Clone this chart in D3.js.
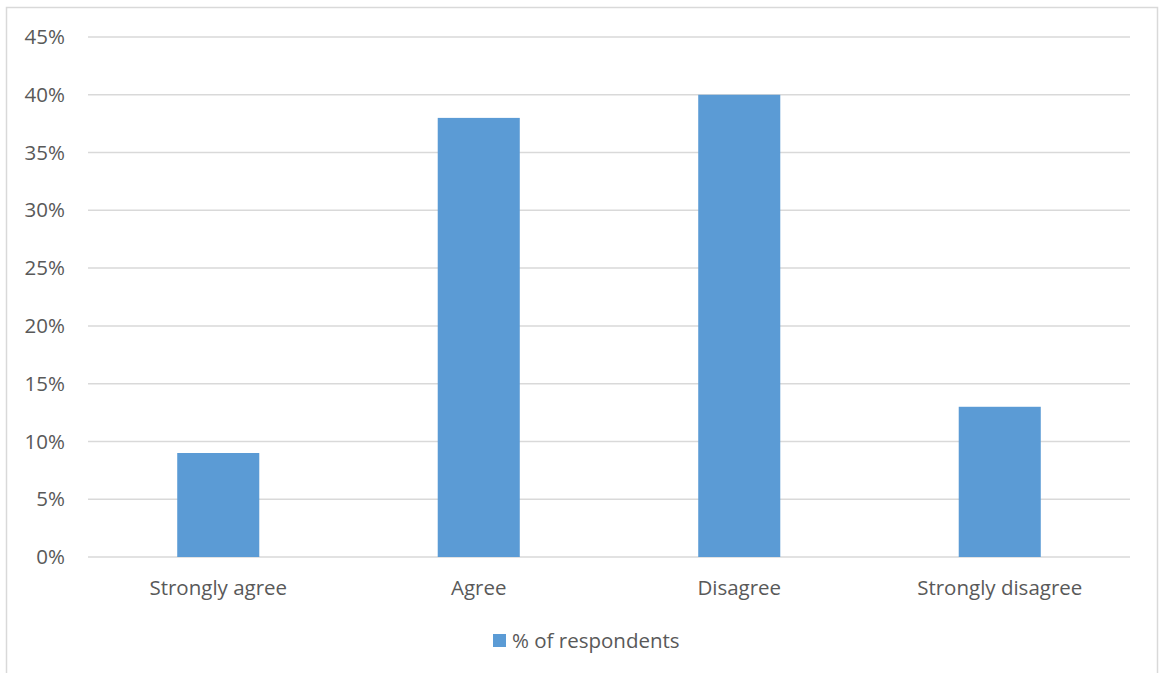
<!DOCTYPE html>
<html>
<head>
<meta charset="utf-8">
<script src="https://cdn.jsdelivr.net/npm/d3@7"></script>
<style>
  html, body { margin: 0; padding: 0; background: #fff; }
  svg { display: block; }
</style>
</head>
<body>
<svg id="chart" width="1160" height="673"></svg>
<script>
// Survey responses
const categories = ["Strongly agree", "Agree", "Disagree", "Strongly disagree"];
const respondents = [0.09, 0.38, 0.40, 0.13];
const yTicks = [0, 0.05, 0.10, 0.15, 0.20, 0.25, 0.30, 0.35, 0.40, 0.45];
const seriesName = "% of respondents";

const svg = d3.select("#chart");
const font = "'Open Sans', 'Noto Sans', sans-serif";
const fontSize = "20.5px";
const textColor = "#595959";
const gridColor = "#d9d9d9";
const barColor = "#5b9bd5";

// Chart frame
svg.append("rect")
  .attr("x", 6.5).attr("y", 7.5)
  .attr("width", 1151).attr("height", 680)
  .attr("fill", "#fff")
  .attr("stroke", gridColor).attr("stroke-width", 1.5);

const plot = { left: 88, right: 1130, top: 37, bottom: 557 };

const x = d3.scaleBand()
  .domain(categories)
  .range([plot.left, plot.right])
  .paddingInner(0.685)
  .paddingOuter(0.3425);

const y = d3.scaleLinear()
  .domain([0, 0.45])
  .range([plot.bottom, plot.top]);

// Gridlines
svg.append("g")
  .selectAll("line")
  .data(yTicks)
  .join("line")
  .attr("x1", plot.left).attr("x2", plot.right)
  .attr("y1", d => y(d)).attr("y2", d => y(d))
  .attr("stroke", gridColor).attr("stroke-width", 1.5);

// Y axis labels
const yAxis = d3.axisLeft(y)
  .tickValues(yTicks)
  .tickFormat(d3.format(".0%"))
  .tickSize(0)
  .tickPadding(23);
const gy = svg.append("g")
  .attr("transform", `translate(${plot.left},0)`)
  .call(yAxis);
gy.select(".domain").remove();
gy.selectAll("text")
  .attr("fill", textColor)
  .style("font-family", font)
  .style("font-size", fontSize);

// Bars
svg.append("g")
  .selectAll("rect")
  .data(categories)
  .join("rect")
  .attr("x", d => x(d))
  .attr("width", x.bandwidth())
  .attr("y", (d, i) => y(respondents[i]))
  .attr("height", (d, i) => y(0) - y(respondents[i]))
  .attr("fill", barColor);

// X axis labels
const xAxis = d3.axisBottom(x).tickSize(0).tickPadding(23);
const gx = svg.append("g")
  .attr("transform", `translate(0,${plot.bottom})`)
  .call(xAxis);
gx.select(".domain").remove();
gx.selectAll("text")
  .attr("fill", textColor)
  .style("font-family", font)
  .style("font-size", fontSize);

// Legend
const legend = svg.append("g").attr("transform", "translate(493,634)");
legend.append("rect")
  .attr("width", 13).attr("height", 13)
  .attr("fill", barColor);
legend.append("text")
  .attr("x", 19).attr("y", 6.5)
  .attr("dy", "0.35em")
  .attr("fill", textColor)
  .style("font-family", font)
  .style("font-size", fontSize)
  .text(seriesName);
</script>
</body>
</html>
